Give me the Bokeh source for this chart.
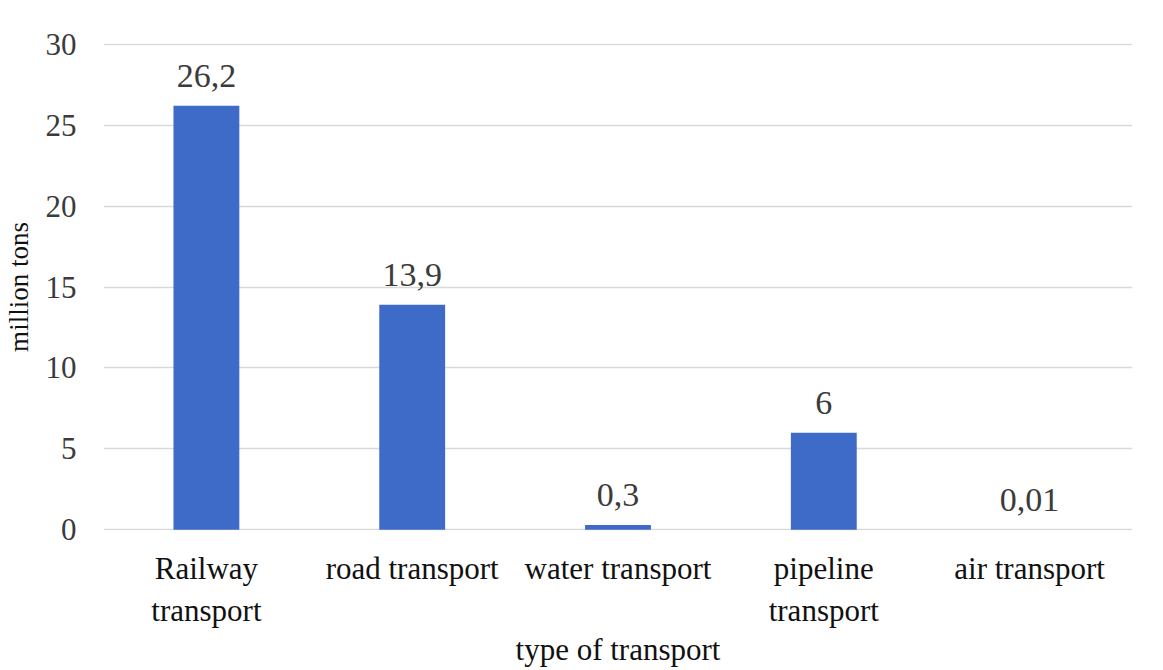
from bokeh.plotting import figure
from bokeh.models import ColumnDataSource, FactorRange, Range1d, SingleIntervalTicker
from bokeh.embed import file_html
from bokeh.resources import INLINE

# Freight volume by type of transport, million tons
categories = ["Railway\ntransport", "road transport", "water transport",
              "pipeline\ntransport", "air transport"]
volumes = [26.2, 13.9, 0.3, 6.0, 0.01]
value_labels = [f"{v:g}".replace(".", ",") for v in volumes]

FONT = "Liberation Serif"
TEXT = "#3b3b3b"
BAR = "#3f6bc8"

source = ColumnDataSource(dict(cat=categories, vol=volumes, lab=value_labels))

p = figure(
    width=1163, height=670,
    x_range=FactorRange(*categories, range_padding=0),
    y_range=Range1d(-0.04, 30.04),
    output_backend="svg", toolbar_location=None,
    min_border_left=103, min_border_right=31,
    min_border_top=43, min_border_bottom=140,
)
p.outline_line_color = None
p.background_fill_color = "white"
p.border_fill_color = "white"

p.vbar(x="cat", top="vol", width=0.32, source=source,
       fill_color=BAR, line_color=None)

p.text(x="cat", y="vol", text="lab", source=source,
       text_font=FONT, text_font_size="34px", text_color=TEXT,
       text_align="center", text_baseline="bottom", y_offset=-19)

# y axis
p.yaxis.ticker = SingleIntervalTicker(interval=5)
p.yaxis.axis_line_color = None
p.yaxis.major_tick_line_color = None
p.yaxis.minor_tick_line_color = None
p.yaxis.major_tick_out = 0
p.yaxis.major_tick_in = 0
p.yaxis.minor_tick_out = 0
p.yaxis.major_label_text_font = FONT
p.yaxis.major_label_text_font_size = "31px"
p.yaxis.major_label_text_color = TEXT
p.yaxis.major_label_standoff = 27
p.yaxis.axis_label = "million tons"
p.yaxis.axis_label_text_font = FONT
p.yaxis.axis_label_text_font_size = "27px"
p.yaxis.axis_label_text_font_style = "normal"
p.yaxis.axis_label_text_color = "#111111"
p.yaxis.axis_label_standoff = 9

# x axis
p.xaxis.axis_line_color = None
p.xaxis.major_tick_line_color = None
p.xaxis.minor_tick_line_color = None
p.xaxis.major_tick_out = 0
p.xaxis.major_tick_in = 0
p.xaxis.minor_tick_out = 0
p.xaxis.major_label_text_font = FONT
p.xaxis.major_label_text_font_size = "31px"
p.xaxis.major_label_text_color = "#111111"
p.xaxis.major_label_standoff = 20
p.xaxis.axis_label = "type of transport"
p.xaxis.axis_label_text_font = FONT
p.xaxis.axis_label_text_font_size = "31px"
p.xaxis.axis_label_text_font_style = "normal"
p.xaxis.axis_label_text_color = "#111111"
p.xaxis.axis_label_standoff = 1

p.xgrid.grid_line_color = None
p.ygrid.grid_line_color = "#d9d9d9"
p.ygrid.grid_line_width = 1.5

open("out.html", "w").write(file_html(p, INLINE))
